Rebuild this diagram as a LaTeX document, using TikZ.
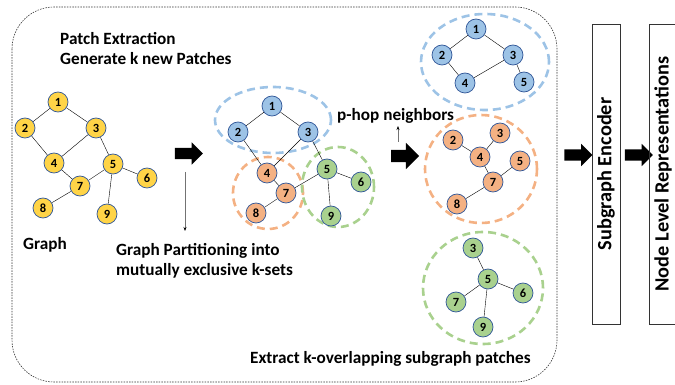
\documentclass[tikz,border=0pt]{standalone}
\usepackage{fontspec}
\setmainfont{Carlito}
\usetikzlibrary{shapes.arrows, arrows.meta}

\definecolor{vyellow}{HTML}{FFD447}
\definecolor{vblue}{HTML}{9DC3E6}
\definecolor{vorange}{HTML}{F4B183}
\definecolor{vgreen}{HTML}{A9D18E}
\definecolor{vedge}{HTML}{2F5597}

\begin{document}
\begin{tikzpicture}[x=1pt, y=-1pt,
  vert/.style={draw=vedge, circle, line width=0.7pt, minimum size=20pt, inner sep=0pt, font=\fontsize{12.5}{12.5}\selectfont\bfseries},
  label/.style={anchor=west, align=left, inner sep=0pt, font=\fontsize{17.2}{20}\selectfont\bfseries},
  fatarrow/.style={single arrow, fill=black, inner xsep=0pt, inner ysep=5.5pt, minimum height=28pt, single arrow head extend=5.5pt},
  patch/.style={dashed, line width=2.6pt, dash pattern=on 8pt off 5pt},
  thin/.style={black!55, line width=0.6pt, -{Stealth[length=4pt, width=3pt, black]}},
  stage/.style={draw=black!80, line width=0.9pt, rotate=90, minimum width=300pt, minimum height=28pt, inner sep=0pt, font=\fontsize{20.3}{20.3}\selectfont\bfseries}]
  \useasboundingbox (0, 0) rectangle (675, 385);

  % outer frame
  \draw [black!80, line width=0.6pt, dash pattern=on 1.5pt off 1.2pt, rounded corners=42pt] (12, 7) rectangle (557, 382);

  % input graph
  \node [vert, fill=vyellow] (g1) at (58, 102) {1};
  \node [vert, fill=vyellow] (g2) at (25, 128) {2};
  \node [vert, fill=vyellow] (g3) at (96, 128) {3};
  \node [vert, fill=vyellow] (g4) at (54, 163) {4};
  \node [vert, fill=vyellow] (g5) at (113, 164) {5};
  \node [vert, fill=vyellow] (g6) at (147, 178) {6};
  \node [vert, fill=vyellow] (g7) at (80, 186) {7};
  \node [vert, fill=vyellow] (g8) at (43, 208) {8};
  \node [vert, fill=vyellow] (g9) at (107, 214) {9};
  \draw (g1) -- (g2);
  \draw (g1) -- (g3);
  \draw (g2) -- (g4);
  \draw (g3) -- (g4);
  \draw (g3) -- (g5);
  \draw (g4) -- (g7);
  \draw (g7) -- (g5);
  \draw (g7) -- (g8);
  \draw (g5) -- (g6);
  \draw (g5) -- (g9);

  % partitioned graph
  \draw [patch, vblue] (273, 120) ellipse [x radius=58pt, y radius=33pt];
  \draw [patch, vorange] (268, 193) ellipse [x radius=35pt, y radius=36pt];
  \draw [patch, vgreen] (338, 187) ellipse [x radius=36pt, y radius=40pt];
  \node [vert, fill=vblue] (m1) at (272, 106) {1};
  \node [vert, fill=vblue] (m2) at (238, 132) {2};
  \node [vert, fill=vblue] (m3) at (308, 132) {3};
  \node [vert, fill=vorange] (m4) at (267, 173) {4};
  \node [vert, fill=vgreen] (m5) at (327, 169) {5};
  \node [vert, fill=vgreen] (m6) at (361, 182) {6};
  \node [vert, fill=vorange] (m7) at (286, 193) {7};
  \node [vert, fill=vorange] (m8) at (256, 213) {8};
  \node [vert, fill=vgreen] (m9) at (331, 216) {9};
  \draw (m1) -- (m2);
  \draw (m1) -- (m3);
  \draw (m2) -- (m4);
  \draw (m3) -- (m4);
  \draw (m3) -- (m5);
  \draw (m4) -- (m7);
  \draw (m7) -- (m5);
  \draw (m7) -- (m8);
  \draw (m5) -- (m6);
  \draw (m5) -- (m9);

  % blue patch
  \draw [patch, vblue] (485, 62) ellipse [x radius=64pt, y radius=48pt];
  \node [vert, fill=vblue] (b1) at (476, 29) {1};
  \node [vert, fill=vblue] (b2) at (442, 55) {2};
  \node [vert, fill=vblue] (b3) at (513, 55) {3};
  \node [vert, fill=vblue] (b4) at (465, 83) {4};
  \node [vert, fill=vblue] (b5) at (524, 82) {5};
  \draw (b1) -- (b2);
  \draw (b1) -- (b3);
  \draw (b2) -- (b4);
  \draw (b4) -- (b3);
  \draw (b3) -- (b5);

  % orange patch
  \draw [patch, vorange] (481, 169) ellipse [x radius=56pt, y radius=54pt];
  \node [vert, fill=vorange] (o2) at (453, 140) {2};
  \node [vert, fill=vorange] (o3) at (500, 133) {3};
  \node [vert, fill=vorange] (o4) at (480, 157) {4};
  \node [vert, fill=vorange] (o5) at (520, 161) {5};
  \node [vert, fill=vorange] (o7) at (493, 182) {7};
  \node [vert, fill=vorange] (o8) at (457, 204) {8};
  \draw (o2) -- (o4);
  \draw (o4) -- (o3);
  \draw (o4) -- (o7);
  \draw (o7) -- (o5);
  \draw (o7) -- (o8);

  % green patch
  \draw [patch, vgreen] (483, 288) ellipse [x radius=60pt, y radius=56pt];
  \node [vert, fill=vgreen] (n3) at (473, 248) {3};
  \node [vert, fill=vgreen] (n5) at (488, 279) {5};
  \node [vert, fill=vgreen] (n6) at (523, 293) {6};
  \node [vert, fill=vgreen] (n7) at (456, 302) {7};
  \node [vert, fill=vgreen] (n9) at (483, 327) {9};
  \draw (n3) -- (n5);
  \draw (n5) -- (n6);
  \draw (n5) -- (n7);
  \draw (n5) -- (n9);

  % texts
  \node [label] (title) at (60, 48.5) {Patch Extraction\\Generate k new Patches};
  \node [label] (graph) at (23, 245) {Graph};
  \node [label] (part) at (116, 260.5) {Graph Partitioning into\\mutually exclusive k-sets};
  \node [label] (phop) at (337, 116) {p-hop neighbors};
  \node [label] (extract) at (250, 359) {Extract k-overlapping subgraph patches};

  % thin arrows
  \coordinate (partfrom) at (185, 172);
  \coordinate (partto) at (185, 231);
  \coordinate (phopfrom) at (398, 142);
  \coordinate (phopto) at (398, 126);
  \draw [thin] (partfrom) -- (partto);
  \draw [thin] (phopfrom) -- (phopto);

  % block arrows
  \node [fatarrow] (a1) at (186, 153.5) {};
  \node [fatarrow, inner ysep=6pt, single arrow head extend=7pt] (a2) at (402, 156) {};
  \node [fatarrow] (a3) at (575.5, 155) {};
  \node [fatarrow] (a4) at (636, 155) {};

  % stages
  \node [stage] (enc) at (606, 174) {Subgraph Encoder};
  \node [stage] (nlr) at (663, 174) {Node Level Representations};
\end{tikzpicture}
\end{document}
